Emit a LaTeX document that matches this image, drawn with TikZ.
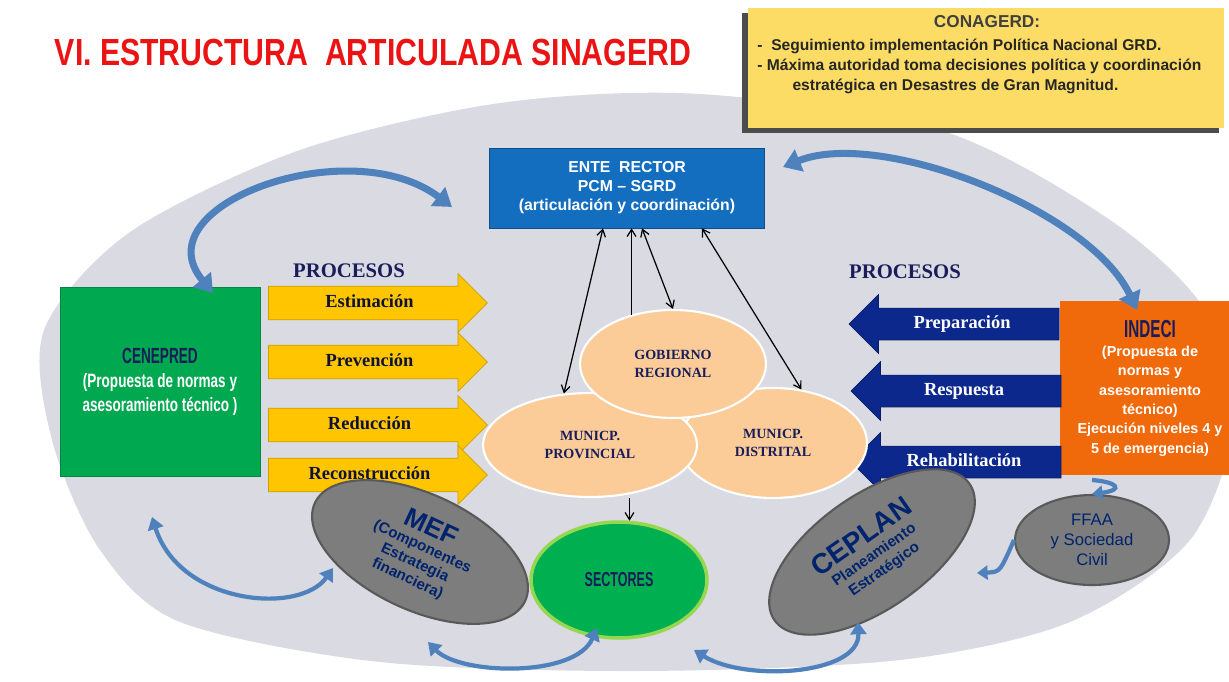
\documentclass[tikz,border=0pt]{standalone}
\usepackage{fontspec}
\setmainfont{Liberation Serif}
\setsansfont{Liberation Sans}
\newfontfamily\narrowfont[FakeStretch=0.8]{Liberation Sans}
\newfontfamily\condfont[FakeStretch=0.62]{Liberation Sans}
\newfontfamily\semicondfont[FakeStretch=0.7]{Liberation Sans}
\usetikzlibrary{shapes.geometric,shapes.arrows,arrows.meta,shadows}

\definecolor{bggrey}{RGB}{217,218,226}
\definecolor{titlered}{RGB}{235,20,20}
\definecolor{conayellow}{RGB}{252,220,100}
\definecolor{enteblue}{RGB}{20,110,192}
\definecolor{navytext}{RGB}{25,30,90}
\definecolor{cengreen}{RGB}{0,168,80}
\definecolor{procyellow}{RGB}{255,198,0}
\definecolor{procblue}{RGB}{12,40,140}
\definecolor{indeciorange}{RGB}{240,105,10}
\definecolor{peach}{RGB}{251,203,152}
\definecolor{secgreen}{RGB}{0,176,80}
\definecolor{seclight}{RGB}{150,215,80}
\definecolor{bubblegrey}{RGB}{125,125,125}
\definecolor{curveblue}{RGB}{79,129,189}
\definecolor{mefnavy}{RGB}{0,35,110}

\tikzset{
  procarrow/.style={single arrow, fill=procyellow, draw=procyellow!80!black,
    single arrow head extend=0.25cm, minimum height=4.38cm,
    text height=8pt, text depth=2.5pt, inner ysep=4.1pt,
    font=\rmfamily\bfseries\fontsize{10.5}{12}\selectfont, text=navytext!60!black},
  prevarrow/.style={single arrow, shape border rotate=180, fill=procblue,
    draw=procblue!70!black, single arrow head extend=0.27cm, minimum height=4.2cm,
    text height=8pt, text depth=2.5pt, inner ysep=3.6pt,
    font=\rmfamily\bfseries\fontsize{10.5}{12}\selectfont, text=white},
  govbubble/.style={ellipse, fill=peach, draw=white, line width=1.2pt, inner sep=0pt,
    align=center, text=navytext, font=\rmfamily\bfseries\fontsize{8}{10}\selectfont},
  greybubble/.style={ellipse, fill=bubblegrey, draw=black!65, line width=1.2pt,
    inner sep=0pt, align=center, text=mefnavy},
  linkarrow/.style={{Straight Barb[length=4pt,width=5pt]}-{Straight Barb[length=4pt,width=5pt]},
    line width=0.7pt},
  cyclearrow/.style={curveblue, line width=4pt,
    {Triangle[length=10pt,width=13pt]}-{Triangle[length=10pt,width=13pt]}},
  smallcycle/.style={curveblue, line width=2.4pt,
    {Triangle[length=7pt,width=9pt]}-{Triangle[length=7pt,width=9pt]}},
}

\begin{document}
\begin{tikzpicture}[x=0.02cm,y=-0.02cm]
  \useasboundingbox (0,0) rectangle (1229,682);
  \clip (0,0) rectangle (1229,682);
  \fill[white] (0,0) rectangle (1229,682);
  % grey background oval
  \fill[bggrey] plot[smooth cycle] coordinates {(44,330) (130,232) (300,150) (500,103)
    (700,94) (940,130) (1110,220) (1205,310) (1234,420) (1190,540) (1070,622)
    (900,660) (640,671) (380,662) (180,622) (100,550) (52,440)};

  \node[font=\narrowfont\bfseries\fontsize{21.5}{24}\selectfont, text=titlered]
    (title) at (373,52) {VI. ESTRUCTURA\ \ ARTICULADA SINAGERD};

  % CONAGERD
  \node[fill=conayellow, minimum width=9.54cm, minimum height=2.4cm,
    drop shadow={shadow xshift=-3pt, shadow yshift=-3pt, fill=black!70, opacity=1}]
    (conagerd) at (986,68) {};
  \node[font=\sffamily\bfseries\fontsize{9.8}{12}\selectfont, text=black!75]
    (conatitle) at (987,22) {CONAGERD:};
  \node[anchor=north west, align=left, inner sep=0pt,
    font=\sffamily\bfseries\fontsize{8.9}{11.2}\selectfont, text=black!85]
    (conatext) at (757,39) {-\ \ Seguimiento implementación Política Nacional GRD.\\
    - Máxima autoridad toma decisiones política y coordinación\\
    \hspace*{20pt}estratégica en Desastres de Gran Magnitud.};

  % ente rector
  \node[fill=enteblue, draw=enteblue!70!black, minimum width=5.5cm, minimum height=1.6cm,
    align=center, text=white, font=\sffamily\bfseries\fontsize{9}{10.8}\selectfont]
    (ente) at (627,188) {ENTE\ \ RECTOR\\PCM -- SGRD\\(articulación y coordinación)};

  \node[font=\rmfamily\bfseries\fontsize{11.8}{13}\selectfont, text=navytext]
    (procizq) at (349,271) {PROCESOS};
  \node[font=\rmfamily\bfseries\fontsize{11.8}{13}\selectfont, text=navytext]
    (procder) at (905,272) {PROCESOS};

  % CENEPRED
  \node[fill=cengreen, draw=cengreen!80!black, minimum width=4cm, minimum height=3.78cm,
    align=center, text=white, font=\semicondfont\bfseries\fontsize{11}{13.5}\selectfont]
    (cenepred) at (160,382)
    {{\condfont\color{navytext}\fontsize{12.5}{13}\selectfont CENEPRED}\\(Propuesta de normas y\\
    asesoramiento técnico )};

  \node[procarrow] (estim) at (369.5,303) {Estimación};
  \node[procarrow] (prev) at (369.5,362) {Prevención};
  \node[procarrow] (reduc) at (369.5,425) {Reducción};
  \node[procarrow] (recon) at (369.5,475) {Reconstrucción};

  % INDECI
  \node[fill=indeciorange, minimum width=3.6cm, minimum height=3.5cm, align=center,
    text=white, font=\sffamily\bfseries\fontsize{8.2}{11}\selectfont]
    (indeci) at (1150,388)
    {{\condfont\color{navytext}\fontsize{14}{13}\selectfont INDECI}\\(Propuesta de\\normas y\\
    asesoramiento\\técnico)\\Ejecución niveles 4 y\\5 de emergencia)};

  \node[prevarrow] (prep) at (962,324) {Preparación};
  \node[prevarrow] (resp) at (964,391) {Respuesta};
  \node[prevarrow] (rehab) at (964,462) {Rehabilitación};

  % gobiernos
  \node[govbubble, minimum width=3.76cm, minimum height=2.2cm] (dist) at (773,443)
    {MUNICP.\\DISTRITAL};
  \node[govbubble, minimum width=4.28cm, minimum height=2.08cm] (prov) at (590,445)
    {MUNICP.\\PROVINCIAL};
  \node[govbubble, minimum width=3.72cm, minimum height=2.16cm] (gob) at (673,364)
    {GOBIERNO\\REGIONAL};

  \draw[linkarrow] ([xshift=-0.48cm]ente.south) -- (prov.117);
  \draw[-{Straight Barb[length=4pt,width=5pt]}, line width=0.7pt]
    (gob.130) -- (gob.130 |- ente.south);
  \draw[linkarrow] ([xshift=0.3cm]ente.south) -- (gob.north);
  \draw[linkarrow] ([xshift=1.5cm]ente.south) -- (dist.62);

  % sectores y otros
  \node[ellipse, fill=secgreen, draw=seclight, line width=2pt, minimum width=3.52cm,
    minimum height=2.32cm, text=navytext,
    font=\condfont\bfseries\fontsize{11.5}{13}\selectfont] (sect) at (619,580) {SECTORES};
  \draw[-{Straight Barb[length=4pt,width=5pt]}, line width=0.7pt]
    (sect.80 |- prov.south) -- (sect.80);

  \node[greybubble, rotate=-25, minimum width=4.64cm, minimum height=2.32cm,
    font=\sffamily\bfseries\fontsize{8.6}{10}\selectfont] (mef) at (420,552)
    {{\fontsize{15}{17}\selectfont MEF}\\(Componentes\\Estrategia\\financiera)};
  \node[greybubble, rotate=35, minimum width=4.76cm, minimum height=2.28cm,
    font=\sffamily\bfseries\fontsize{8.6}{10}\selectfont] (ceplan) at (872,552)
    {{\fontsize{16}{18}\selectfont CEPLAN}\\Planeamiento\\Estratégico};
  \node[greybubble, minimum width=3.08cm, minimum height=1.8cm,
    font=\sffamily\fontsize{9.5}{11.5}\selectfont] (ffaa) at (1092,540)
    {FFAA\\y Sociedad\\Civil};

  % flechas curvas
  \coordinate (tlA) at (213,293);
  \coordinate (tlB) at (452,207);
  \coordinate (trA) at (783,167);
  \coordinate (trB) at (1137,310);
  \coordinate (blA) at (152,517);
  \coordinate (blB) at (333,568);
  \coordinate (bmA) at (428,642);
  \coordinate (bmB) at (597,628);
  \coordinate (brA) at (694,650);
  \coordinate (brB) at (858,622);
  \coordinate (ffA) at (1092,480);
  \coordinate (ffB) at (977,573);
  \draw[cyclearrow] (tlA) .. controls (140,205) and (350,130) .. (tlB);
  \draw[cyclearrow] (trA) .. controls (880,128) and (1090,210) .. (trB);
  \draw[smallcycle] (blA) .. controls (180,605) and (300,615) .. (blB);
  \draw[smallcycle] (bmA) .. controls (460,675) and (575,678) .. (bmB);
  \draw[smallcycle] (brA) .. controls (745,682) and (860,675) .. (brB);
  \draw[smallcycle, -{Triangle[length=6pt,width=8pt]}]
    (ffA) .. controls (1118,482) and (1124,490) .. (ffaa.north);
  \draw[smallcycle, -{Triangle[length=6pt,width=8pt]}]
    (ffaa.west) .. controls (1000,572) .. (ffB);
\end{tikzpicture}
\end{document}
